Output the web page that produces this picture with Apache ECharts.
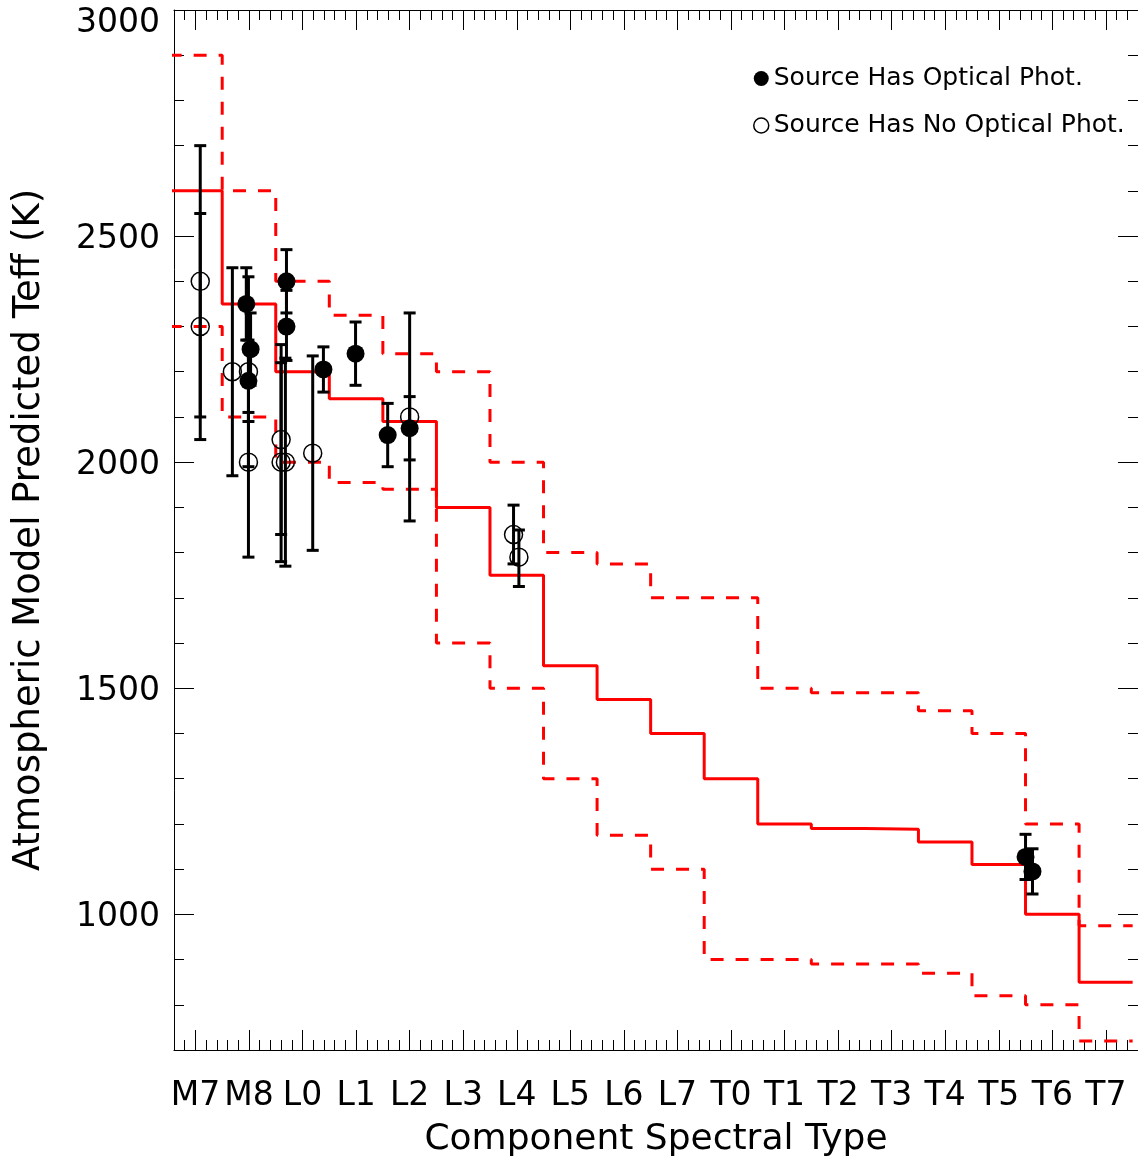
<!DOCTYPE html>
<html>
<head>
<meta charset="utf-8">
<script src="https://cdn.jsdelivr.net/npm/echarts@6/dist/echarts.min.js"></script>
<style>
html,body{margin:0;padding:0;background:#fff;}
#chart{width:1138px;height:1160px;}
</style>
</head>
<body>
<div id="chart"></div>
<script>
// Spectral type categories (tick labels on the x axis, placed at 0..17)
const spTypes = ['M7','M8','L0','L1','L2','L3','L4','L5','L6','L7','T0','T1','T2','T3','T4','T5','T6','T7'];
// Y tick labels
const yTicks = [1000, 1500, 2000, 2500, 3000];

// Model relation (solid) and its scatter envelope (dashed), one value per spectral type
const modelTeff = [2600,2350,2200,2140,2090,1900,1750,1550,1475,1400,1300,1200,1190,1188,1160,1110,1000,850];
const modelHigh = [2900,2600,2400,2325,2240,2200,2000,1800,1775,1700,1700,1500,1490,1490,1450,1400,1200,975];
const modelLow  = [2300,2100,2000,1955,1940,1600,1500,1300,1175,1100,900,900,890,890,870,820,800,720];

// Sources with optical photometry (filled)
const optX  = [0.95, 1.03, 0.99, 1.70, 1.70, 2.39, 2.99, 3.59, 4.00, 15.50, 15.63];
const optY  = [2350, 2250, 2180, 2400, 2300, 2205, 2240, 2060, 2075, 1127, 1095];
const optLo = [2270, 2170, 2090, 2330, 2225, 2155, 2170, 1990, 2005, 1077, 1045];
const optHi = [2430, 2330, 2270, 2470, 2380, 2255, 2310, 2130, 2145, 1177, 1145];

// Sources without optical photometry (open)
const noX  = [0.09, 0.09, 0.69, 0.99, 0.99, 1.60, 1.60, 1.68, 2.19, 4.00, 5.94, 6.04];
const noY  = [2400, 2300, 2200, 2200, 2000, 2050, 2000, 2000, 2020, 2100, 1840, 1790];
const noLo = [2100, 2050, 1970, 1990, 1790, 1840, 1780, 1770, 1805, 1870, 1775, 1725];
const noHi = [2700, 2550, 2430, 2410, 2110, 2260, 2220, 2230, 2235, 2330, 1905, 1850];

const FONT = 'DejaVu Sans';
const X_MIN = -0.4, X_MAX = 17.6, Y_MIN = 700, Y_MAX = 3000;

function stepPath(vals) {
  const pts = [];
  vals.forEach((v, i) => { pts.push([i - 0.5, v]); pts.push([i + 0.5, v]); });
  return pts;
}
function zip4(xs, ys, lo, hi) { return xs.map((x, i) => [x, ys[i], lo[i], hi[i]]); }

const majorX = spTypes.map((_, i) => i);

function errRender(params, api) {
  const x = api.value(0), lo = api.value(2), hi = api.value(3);
  const pHi = api.coord([x, hi]), pLo = api.coord([x, lo]);
  const hw = 6;
  const st = { stroke: '#000', lineWidth: 3 };
  return {
    type: 'group',
    children: [
      { type: 'line', shape: { x1: pHi[0], y1: pHi[1], x2: pLo[0], y2: pLo[1] }, style: st },
      { type: 'line', shape: { x1: pHi[0] - hw, y1: pHi[1], x2: pHi[0] + hw, y2: pHi[1] }, style: st },
      { type: 'line', shape: { x1: pLo[0] - hw, y1: pLo[1], x2: pLo[0] + hw, y2: pLo[1] }, style: st }
    ]
  };
}

function lineOpt(show) {
  return { show: show, onZero: false, lineStyle: { color: '#000', width: 1 } };
}
function xAx(pos, major, labels) {
  const a = {
    type: 'value', position: pos, min: X_MIN, max: X_MAX, gridIndex: 0,
    axisLine: lineOpt(major),
    splitLine: { show: false },
    axisTick: { show: true, inside: true, length: major ? 20 : 10, lineStyle: { color: '#000', width: 1 } },
    axisLabel: { show: false }
  };
  if (major) {
    a.axisTick.customValues = majorX;
    if (labels) {
      a.axisLabel = { show: true, customValues: majorX, formatter: v => spTypes[Math.round(v)],
        fontFamily: FONT, fontSize: 33, color: '#000', margin: 30 };
      a.name = 'Component Spectral Type';
      a.nameLocation = 'middle';
      a.nameGap = 72;
      a.nameTextStyle = { fontFamily: FONT, fontSize: 36, color: '#000' };
    }
  } else {
    a.interval = 0.2;
  }
  return a;
}
function yAx(pos, major, labels) {
  const a = {
    type: 'value', position: pos, min: Y_MIN, max: Y_MAX, gridIndex: 0,
    axisLine: lineOpt(major),
    splitLine: { show: false },
    axisTick: { show: true, inside: true, length: major ? 20 : 10, lineStyle: { color: '#000', width: 1 } },
    axisLabel: { show: false }
  };
  if (major) {
    a.axisTick.customValues = yTicks;
    if (labels) {
      a.axisLabel = { show: true, customValues: yTicks,
        formatter: v => (v === Y_MAX ? '{top|' + v + '}' : '{std|' + v + '}'),
        rich: { top: { padding: [26, 0, 0, 0] }, std: { padding: [6, 0, 0, 0] } },
        fontFamily: FONT, fontSize: 33, color: '#000', margin: 14 };
      a.name = 'Atmospheric Model Predicted Teff (K)';
      a.nameLocation = 'middle';
      a.nameGap = 126;
      a.nameRotate = 90;
      a.nameTextStyle = { fontFamily: FONT, fontSize: 37, color: '#000' };
    }
  } else {
    a.interval = 100;
  }
  return a;
}

const chart = echarts.init(document.getElementById('chart'), null, { renderer: 'canvas' });
chart.setOption({
  backgroundColor: '#fff',
  animation: false,
  grid: { left: 174, right: 0, top: 10, bottom: 110, containLabel: false, outerBoundsMode: 'none' },
  xAxis: [xAx('bottom', true, true), xAx('bottom', false), xAx('top', true, false), xAx('top', false)],
  yAxis: [yAx('left', true, true), yAx('left', false), yAx('right', true, false), yAx('right', false)],
  legend: {
    orient: 'vertical', left: 748, top: 61, itemGap: 22, itemWidth: 15, itemHeight: 15,
    icon: 'circle',
    textStyle: { fontFamily: FONT, fontSize: 25, color: '#000' },
    data: [
      { name: 'Source Has Optical Phot.', itemStyle: { color: '#000', borderWidth: 0, opacity: 1 } },
      { name: 'Source Has No Optical Phot.', itemStyle: { color: 'rgba(0,0,0,0)', borderColor: '#000', borderWidth: 1.5, opacity: 1 } }
    ]
  },
  series: [
    { type: 'line', name: 'model', data: stepPath(modelTeff), symbol: 'none', z: 1,
      lineStyle: { color: '#ff0000', width: 3 } },
    { type: 'line', name: 'upper', data: stepPath(modelHigh), symbol: 'none', z: 1,
      lineStyle: { color: '#ff0000', width: 3, type: [13, 12] } },
    { type: 'line', name: 'lower', data: stepPath(modelLow), symbol: 'none', z: 1,
      lineStyle: { color: '#ff0000', width: 3, type: [13, 12] } },
    { type: 'custom', name: 'errNo', data: zip4(noX, noY, noLo, noHi), renderItem: errRender, z: 2,
      encode: { x: 0, y: [1, 2, 3] } },
    { type: 'custom', name: 'errOpt', data: zip4(optX, optY, optLo, optHi), renderItem: errRender, z: 2,
      encode: { x: 0, y: [1, 2, 3] } },
    { type: 'scatter', name: 'Source Has No Optical Phot.', data: noX.map((x, i) => [x, noY[i]]),
      symbol: 'circle', symbolSize: 18, z: 3,
      itemStyle: { color: 'rgba(0,0,0,0)', borderColor: '#000', borderWidth: 1.5, opacity: 1 } },
    { type: 'scatter', name: 'Source Has Optical Phot.', data: optX.map((x, i) => [x, optY[i]]),
      symbol: 'circle', symbolSize: 18, z: 3,
      itemStyle: { color: '#000', opacity: 1 } }
  ]
});
</script>
</body>
</html>
